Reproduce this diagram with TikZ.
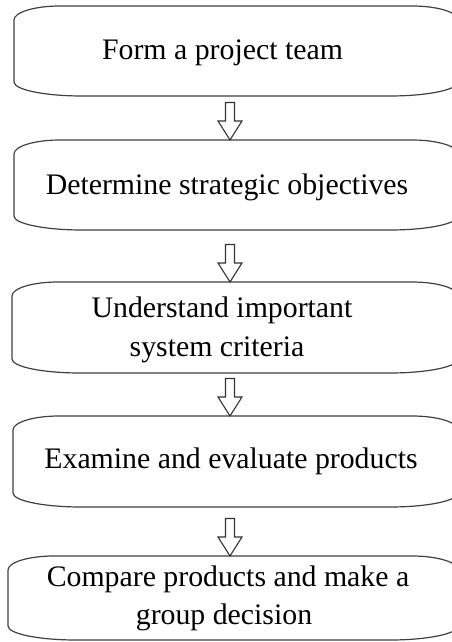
\documentclass[tikz,border=0pt]{standalone}
\usepackage{fontspec}
\setmainfont{Liberation Serif}
\tikzset{
  boxn/.style={draw=none, inner sep=0pt, outer sep=0pt, rectangle},
  boxline/.style={draw=black!75, line width=1.2pt},
  arrowline/.style={draw=black!80, line width=1.1pt, fill=white, line join=miter},
  txt/.style={inner sep=0pt, anchor=base, font=\fontsize{29.8}{36}\selectfont, text=black}
}
\newcommand\bxoutline[1]{%
  \draw[boxline] ([yshift=-14pt]#1.north west)
    arc[start angle=180,end angle=90,x radius=46pt,y radius=14pt]
    -- ([xshift=-46pt]#1.north east)
    arc[start angle=90,end angle=0,x radius=46pt,y radius=14pt]
    -- ([yshift=14pt]#1.south east)
    arc[start angle=0,end angle=-90,x radius=68pt,y radius=14pt]
    -- ([xshift=68pt]#1.south west)
    arc[start angle=270,end angle=180,x radius=68pt,y radius=14pt]
    -- cycle;}
\newcommand\blockarr[2]{%
  \draw[arrowline] (ax |- #2.north) -- ++(-12pt,19pt) -- ++(7.5pt,0pt) -- ++(0pt,18.5pt)
    -- ++(9pt,0pt) -- ++(0pt,-18.5pt) -- ++(7.5pt,0pt) -- cycle;}
\begin{document}
\begin{tikzpicture}[x=1pt,y=1pt]
\useasboundingbox (0,0) rectangle (452,642);
\clip (0,0) rectangle (452,642);
\fill[white] (0,0) rectangle (452,642);
\coordinate (ax) at (230,0);
% boxes
\node[boxn, minimum width=444pt, minimum height=90pt] (b1) at (236,591) {};
\node[boxn, minimum width=444pt, minimum height=90pt] (b2) at (236,457) {};
\node[boxn, minimum width=446pt, minimum height=91pt] (b3) at (235,314.5) {};
\node[boxn, minimum width=445pt, minimum height=91pt] (b4) at (235.5,180.5) {};
\node[boxn, minimum width=450pt, minimum height=84pt] (b5) at (233,44) {};
\bxoutline{b1}
\bxoutline{b2}
\bxoutline{b3}
\bxoutline{b4}
\bxoutline{b5}
% texts
\node[txt] (t1) at (222.5,582) {Form a project team};
\node[txt] (t2) at (227,447) {Determine strategic objectives};
\node[txt] (t3a) at (222,324) {Understand important};
\node[txt] (t3b) at (217,285) {system criteria};
\node[txt] (t4) at (231,173) {Examine and evaluate products};
\node[txt] (t5a) at (228,55) {Compare products and make a};
\node[txt] (t5b) at (224,17) {group decision};
% arrows
\blockarr{b1}{b2}
\blockarr{b2}{b3}
\blockarr{b3}{b4}
\blockarr{b4}{b5}
\end{tikzpicture}
\end{document}
